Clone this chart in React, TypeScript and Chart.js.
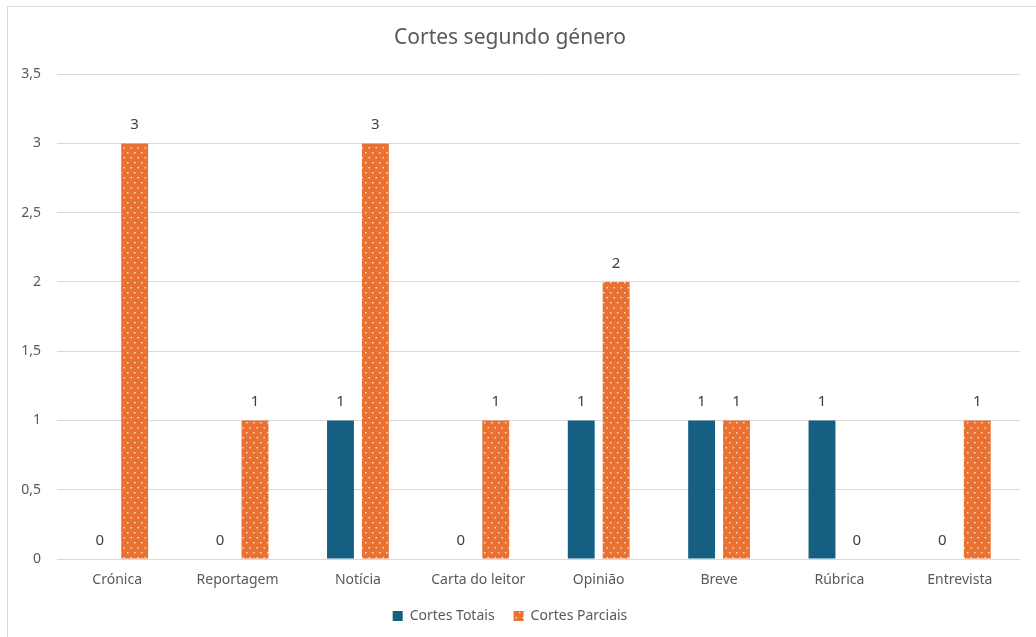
import React, { useEffect, useRef } from "react";
import { Chart, registerables } from "chart.js";

Chart.register(...registerables);

const categories = ["Crónica", "Reportagem", "Notícia", "Carta do leitor", "Opinião", "Breve", "Rúbrica", "Entrevista"];
const cortesTotais = [0, 0, 1, 0, 1, 1, 1, 0];
const cortesParciais = [3, 1, 3, 1, 2, 1, 0, 1];
const seriesNames = ["Cortes Totais", "Cortes Parciais"];
const yTicksMax = 3.5;
const yTickStep = 0.5;

const FONT = "'Noto Sans', 'Open Sans', sans-serif";

function makePattern(): CanvasPattern | string {
  const c = document.createElement("canvas");
  c.width = 7;
  c.height = 10;
  const ctx = c.getContext("2d");
  if (!ctx) return "#E97132";
  ctx.fillStyle = "#E97132";
  ctx.fillRect(0, 0, 7, 10);
  ctx.fillStyle = "rgba(255,255,255,0.75)";
  ctx.fillRect(1, 2, 1.5, 1.5);
  ctx.fillRect(4.5, 7, 1.5, 1.5);
  const p = ctx.createPattern(c, "repeat");
  return p || "#E97132";
}

const valueLabels = {
  id: "valueLabels",
  afterDatasetsDraw(chart: any) {
    const ctx = chart.ctx;
    ctx.save();
    ctx.font = `15px ${FONT}`;
    ctx.fillStyle = "#404040";
    ctx.textAlign = "center";
    ctx.textBaseline = "bottom";
    chart.data.datasets.forEach((ds: any, di: number) => {
      const meta = chart.getDatasetMeta(di);
      meta.data.forEach((bar: any, i: number) => {
        ctx.fillText(String(ds.data[i]), bar.x, bar.y - 11);
      });
    });
    ctx.restore();
  },
};

export default function App() {
  const ref = useRef<HTMLCanvasElement>(null);
  useEffect(() => {
    if (!ref.current) return;
    const pattern = makePattern();
    const chart = new Chart(ref.current, {
      type: "bar",
      data: {
        labels: categories,
        datasets: [
          {
            label: seriesNames[0],
            data: cortesTotais,
            backgroundColor: "#156082",
            borderColor: "#156082",
            borderWidth: 0,
            categoryPercentage: 0.58,
            barPercentage: 0.77,
          },
          {
            label: seriesNames[1],
            data: cortesParciais,
            backgroundColor: pattern as any,
            borderColor: "#F4A47A",
            borderWidth: 0,
            categoryPercentage: 0.58,
            barPercentage: 0.77,
          },
        ],
      },
      options: {
        animation: false,
        responsive: false,
        maintainAspectRatio: false,
        layout: { padding: { left: 0, right: 16, top: 0, bottom: 4 } },
        plugins: {
          title: {
            display: true,
            text: "Cortes segundo género",
            color: "#595959",
            font: { family: FONT, size: 21, weight: "normal" },
            padding: { top: 25, bottom: 24 },
          },
          legend: {
            position: "bottom",
            labels: {
              color: "#595959",
              font: { family: FONT, size: 14 },
              boxWidth: 10,
              boxHeight: 10,
              padding: 19,
            },
          },
          tooltip: { enabled: false },
        },
        scales: {
          x: {
            grid: { display: false, drawTicks: false },
            border: { display: false },
            ticks: {
              color: "#595959",
              font: { family: FONT, size: 14 },
              padding: 13,
              maxRotation: 0,
            },
            afterFit: (s: any) => {
              s.height = 31;
            },
          },
          y: {
            min: 0,
            max: yTicksMax,
            grid: { color: "#d9d9d9", drawTicks: false, lineWidth: 1 },
            border: { display: false },
            ticks: {
              stepSize: yTickStep,
              color: "#595959",
              font: { family: FONT, size: 14 },
              padding: 16,
              callback: (v: any) => String(v).replace(".", ","),
            },
            afterFit: (s: any) => {
              s.width = 57;
            },
          },
        },
      },
      plugins: [valueLabels],
    });
    return () => chart.destroy();
  }, []);

  return (
    <div style={{ position: "fixed", left: 0, top: 0, width: 1036, height: 637, background: "#fff" }}>
      <div
        style={{
          position: "absolute",
          left: 7,
          top: 6,
          width: 1100,
          height: 700,
          borderLeft: "1px solid #d9d9d9",
          borderTop: "1px solid #d9d9d9",
        }}
      />
      <canvas ref={ref} width={1036} height={637} style={{ position: "absolute", left: 0, top: 0 }} />
    </div>
  );
}
